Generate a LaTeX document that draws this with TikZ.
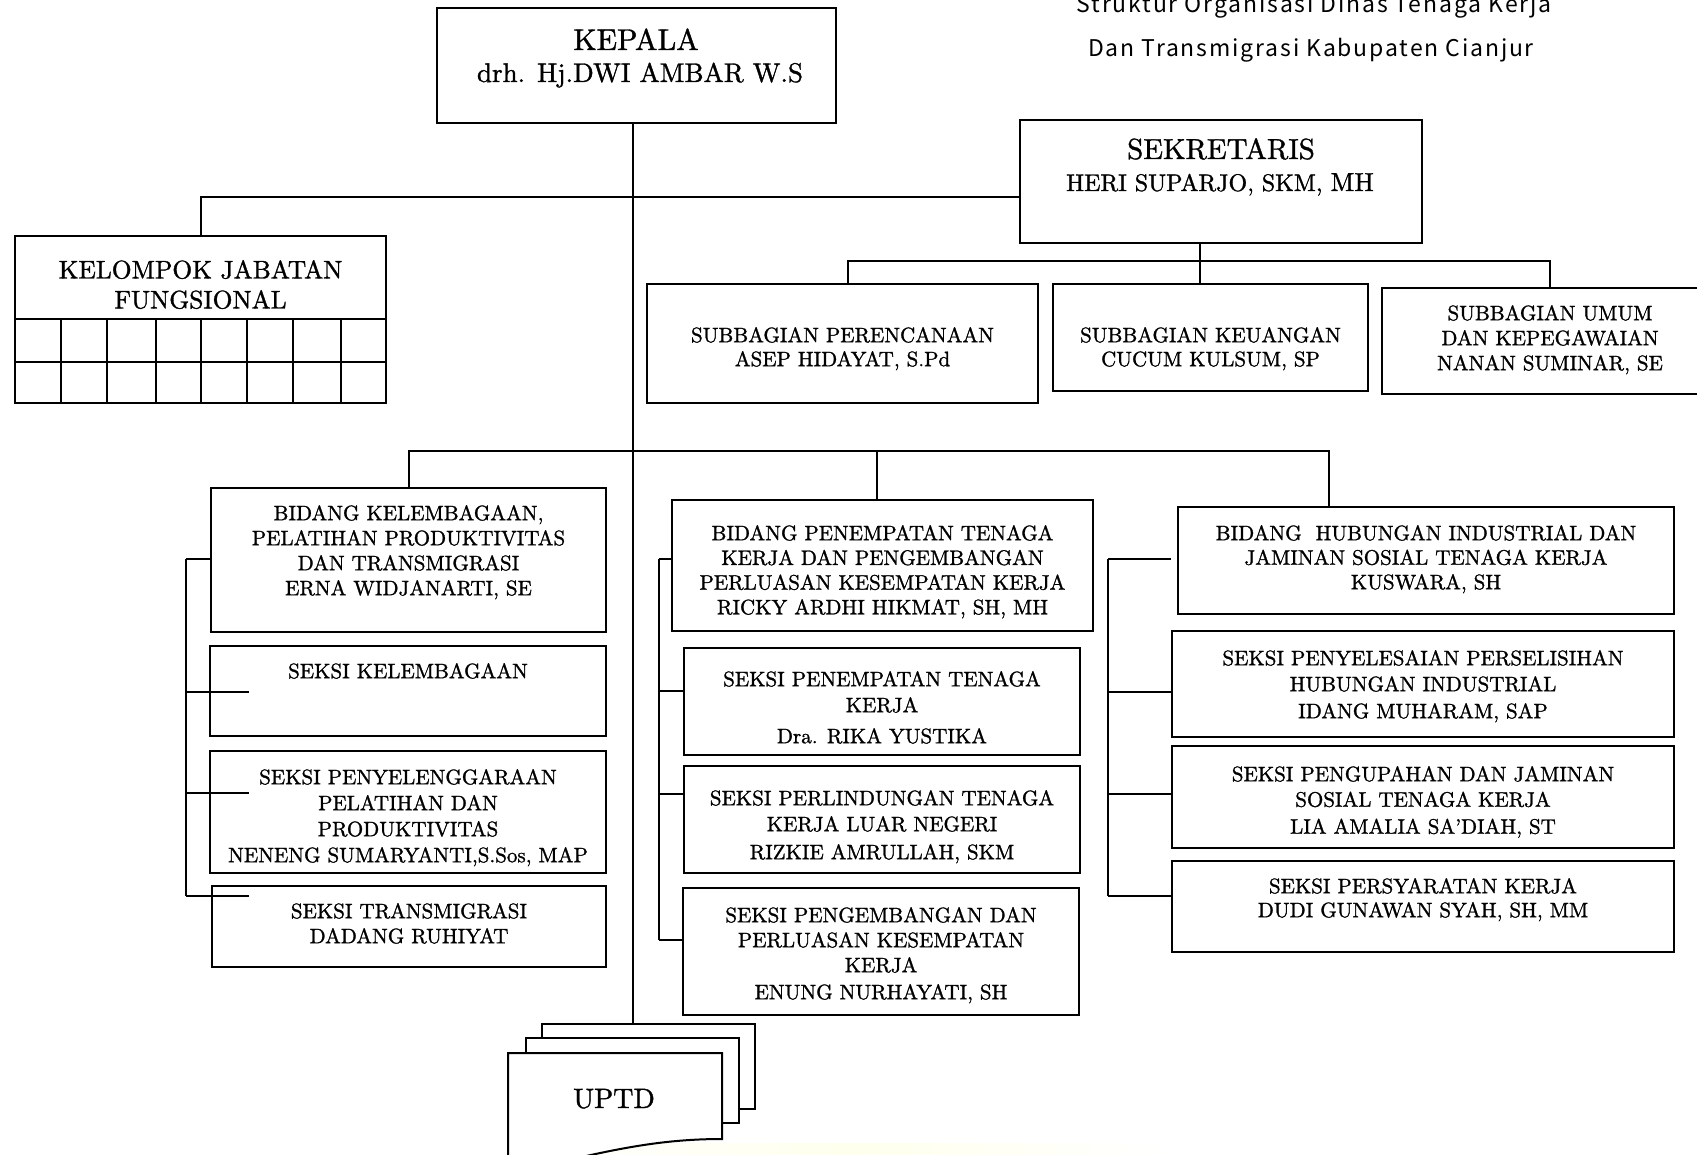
\documentclass[tikz,border=0pt]{standalone}
\usepackage{fontspec}
\setmainfont{lmroman10-regular.otf}[FakeBold=1.2]
\newfontfamily\titlefont[LetterSpace=8]{Noto Sans CJK JP}
\usetikzlibrary{calc}
\tikzset{
  box/.style={draw, line width=2.2pt, inner sep=0pt, rectangle},
  conn/.style={line width=1.8pt},
  txt/.style={align=center, inner sep=0pt, anchor=north, font=\fontsize{21}{25}\selectfont},
  ttl/.style={inner sep=0pt, anchor=base, font=\titlefont\fontsize{23}{28}\selectfont},
  page/.style={draw, line width=2pt, fill=white, inner sep=0pt, rectangle},
}
\newcommand{\orgbox}[5]{\node[box, minimum width={#4-#2}, minimum height={#5-#3}] (#1) at ({(#2+#4)/2},{(#3+#5)/2}) {};}
\begin{document}
\begin{tikzpicture}[x=1pt,y=-1pt]
\useasboundingbox (0,0) rectangle (1697,1155);
\clip (0,0) rectangle (1697,1155);
\shade[left color=white, right color=white, middle color=yellow!7] (540,1143) rectangle (1170,1155);

% title
\node[ttl] (title1) at (1314,13) {Struktur Organisasi Dinas Tenaga Kerja};
\node[ttl] (title2) at (1311,57) {Dan Transmigrasi Kabupaten Cianjur};

% KEPALA
\orgbox{kepala}{437}{8}{836}{123}
\node[inner sep=0pt, anchor=base, font=\fontsize{30}{36}\selectfont] (kepT) at (636,50) {KEPALA};
\node[inner sep=0pt, anchor=base, font=\fontsize{27}{30}\selectfont] (kepN) at (640,82) {drh. Hj.DWI AMBAR W.S};

% SEKRETARIS
\orgbox{sek}{1020}{120}{1422}{243}
\node[inner sep=0pt, anchor=base, font=\fontsize{29}{34}\selectfont] (sekT) at (1221,159) {SEKRETARIS};
\node[inner sep=0pt, anchor=base, font=\fontsize{24}{28}\selectfont] (sekN) at (1220,191) {HERI SUPARJO, SKM, {\fontsize{26}{28}\selectfont MH}};

% KELOMPOK JABATAN FUNGSIONAL
\orgbox{kjf}{15}{236}{386}{403}
\draw[line width=2pt] (15,319) -- (386,319);
\draw[line width=2pt] (15,362) -- (386,362);
\foreach \cx in {61,107,156,201,247,293,341} {\draw[line width=2pt] (\cx,319) -- (\cx,403);}
\node[txt, font=\fontsize{25.5}{30}\selectfont] (kjfT) at (200.5,260) {KELOMPOK JABATAN\\FUNGSIONAL};

% SUBBAGIAN
\orgbox{sp1}{647}{284}{1038}{403}
\orgbox{sp2}{1053}{284}{1368}{391}
\orgbox{sp3}{1382}{288}{1722}{394}
\node[txt, font=\fontsize{21}{24}\selectfont] (sp1T) at (842.5,327) {SUBBAGIAN PERENCANAAN\\ASEP HIDAYAT, S.Pd};
\node[txt, font=\fontsize{21}{24}\selectfont] (sp2T) at (1210.5,327) {SUBBAGIAN KEUANGAN\\CUCUM KULSUM, SP};
\node[txt] (sp3T) at (1550,305) {SUBBAGIAN UMUM\\DAN KEPEGAWAIAN\\NANAN SUMINAR, SE};

% LEFT COLUMN
\orgbox{b1}{211}{488}{606}{632}
\orgbox{s11}{210}{646}{606}{736}
\orgbox{s12}{210}{751}{606}{873}
\orgbox{s13}{212}{886}{606}{967}
\node[txt] (b1T) at (408.5,505) {BIDANG KELEMBAGAAN,\\PELATIHAN PRODUKTIVITAS\\DAN TRANSMIGRASI\\ERNA WIDJANARTI, SE};
\node[txt] (s11T) at (408,663) {SEKSI KELEMBAGAAN};
\node[txt, font=\fontsize{21}{26}\selectfont] (s12T) at (408,769) {SEKSI PENYELENGGARAAN\\PELATIHAN DAN\\PRODUKTIVITAS\\NENENG SUMARYANTI,S.Sos, MAP};
\node[txt] (s13T) at (409,903) {SEKSI TRANSMIGRASI\\DADANG RUHIYAT};

% MIDDLE COLUMN
\orgbox{b2}{672}{500}{1093}{631}
\orgbox{s21}{684}{648}{1080}{755}
\orgbox{s22}{684}{766}{1080}{873}
\orgbox{s23}{683}{888}{1079}{1015}
\node[txt, font=\fontsize{21}{24.7}\selectfont] (b2T) at (882.5,525) {BIDANG PENEMPATAN TENAGA\\KERJA DAN PENGEMBANGAN\\PERLUASAN KESEMPATAN KERJA\\RICKY ARDHI HIKMAT, SH, MH};
\node[txt, font=\fontsize{21}{26}\selectfont] (s21T) at (882,671) {SEKSI PENEMPATAN TENAGA\\KERJA\\[5pt]Dra. RIKA YUSTIKA};
\node[txt, font=\fontsize{21}{26}\selectfont] (s22T) at (882,790) {SEKSI PERLINDUNGAN TENAGA\\KERJA LUAR NEGERI\\[2pt]RIZKIE AMRULLAH, SKM};
\node[txt] (s23T) at (881,907) {SEKSI PENGEMBANGAN DAN\\PERLUASAN KESEMPATAN\\KERJA\\[2pt]ENUNG NURHAYATI, SH};

% RIGHT COLUMN
\orgbox{b3}{1178}{507}{1674}{614}
\orgbox{s31}{1172}{631}{1674}{737}
\orgbox{s32}{1172}{746}{1674}{848}
\orgbox{s33}{1172}{861}{1674}{952}
\node[txt, font=\fontsize{21}{24.5}\selectfont] (b3T) at (1426,525) {BIDANG\ \ HUBUNGAN INDUSTRIAL DAN\\JAMINAN SOSIAL TENAGA KERJA\\KUSWARA, SH};
\node[txt, font=\fontsize{21}{26}\selectfont] (s31T) at (1423,650) {SEKSI PENYELESAIAN PERSELISIHAN\\HUBUNGAN INDUSTRIAL\\[1pt]IDANG MUHARAM, SAP};
\node[txt, font=\fontsize{21}{25.5}\selectfont] (s32T) at (1423,766) {SEKSI PENGUPAHAN DAN JAMINAN\\SOSIAL TENAGA KERJA\\[1.5pt]LIA AMALIA SA’DIAH, ST};
\node[txt, font=\fontsize{21}{24}\selectfont] (s33T) at (1423,878) {SEKSI PERSYARATAN KERJA\\DUDI GUNAWAN SYAH, SH, MM};

% UPTD (stacked documents)
\node[page, minimum width=213, minimum height=85] (uptdA) at (648.5,1066.5) {};
\node[page, minimum width=213, minimum height=85] (uptdB) at (632.5,1080.5) {};
\draw[line width=2pt, fill=white] (508,1053) -- (722,1053) -- (722,1139)
  .. controls (665,1139) and (620,1148) .. (560,1162) -- (508,1164) -- cycle;
\node[inner sep=0pt, anchor=base, font=\fontsize{28}{32}\selectfont] (uptdT) at (614,1108) {UPTD};

% CONNECTORS
\coordinate (jTrunk) at (633,197);
\coordinate (jKjf) at (201,197);
\draw[conn] (kepala.south -| jTrunk) -- (uptdA.north -| jTrunk);
\draw[conn] (jKjf |- kjf.north) -- (jKjf) -- (jKjf -| sek.west);

\coordinate (jSek) at (1200,261);
\coordinate (dSp1) at (848,261);
\coordinate (dSp3) at (1550,261);
\draw[conn] (jSek |- sek.south) -- (jSek) -- (jSek |- sp2.north);
\draw[conn] (dSp1 |- sp1.north) -- (dSp1) -- (dSp3) -- (dSp3 |- sp3.north);

\coordinate (dB1) at (409,451);
\coordinate (dB2) at (877,451);
\coordinate (dB3) at (1329,451);
\draw[conn] (dB1 |- b1.north) -- (dB1) -- (dB3) -- (dB3 |- b3.north);
\draw[conn] (dB2) -- (dB2 |- b2.north);

% left bracket
\coordinate (L0) at (186,559);
\coordinate (L1) at (186,692);
\coordinate (L2) at (186,793);
\coordinate (L3) at (186,896);
\coordinate (L1e) at (249,692);
\coordinate (L2e) at (249,793);
\coordinate (L3e) at (249,896);
\draw[conn] (L0) -- (L3);
\draw[conn] (L0) -- (L0 -| b1.west);
\draw[conn] (L1) -- (L1e);
\draw[conn] (L2) -- (L2e);
\draw[conn] (L3) -- (L3e);

% middle bracket
\coordinate (M0) at (659,559);
\coordinate (M1) at (659,691);
\coordinate (M2) at (659,794);
\coordinate (M3) at (659,940);
\draw[conn] (M0) -- (M3);
\draw[conn] (M0) -- (M0 -| b2.west);
\draw[conn] (M1) -- (M1 -| s21.west);
\draw[conn] (M2) -- (M2 -| s22.west);
\draw[conn] (M3) -- (M3 -| s23.west);

% right bracket
\coordinate (R0) at (1108,559);
\coordinate (R1) at (1108,692);
\coordinate (R2) at (1108,794);
\coordinate (R3) at (1108,896);
\coordinate (R0e) at (1171,559);
\draw[conn] (R0) -- (R3);
\draw[conn] (R0) -- (R0e);
\draw[conn] (R1) -- (R1 -| s31.west);
\draw[conn] (R2) -- (R2 -| s32.west);
\draw[conn] (R3) -- (R3 -| s33.west);
\end{tikzpicture}
\end{document}
